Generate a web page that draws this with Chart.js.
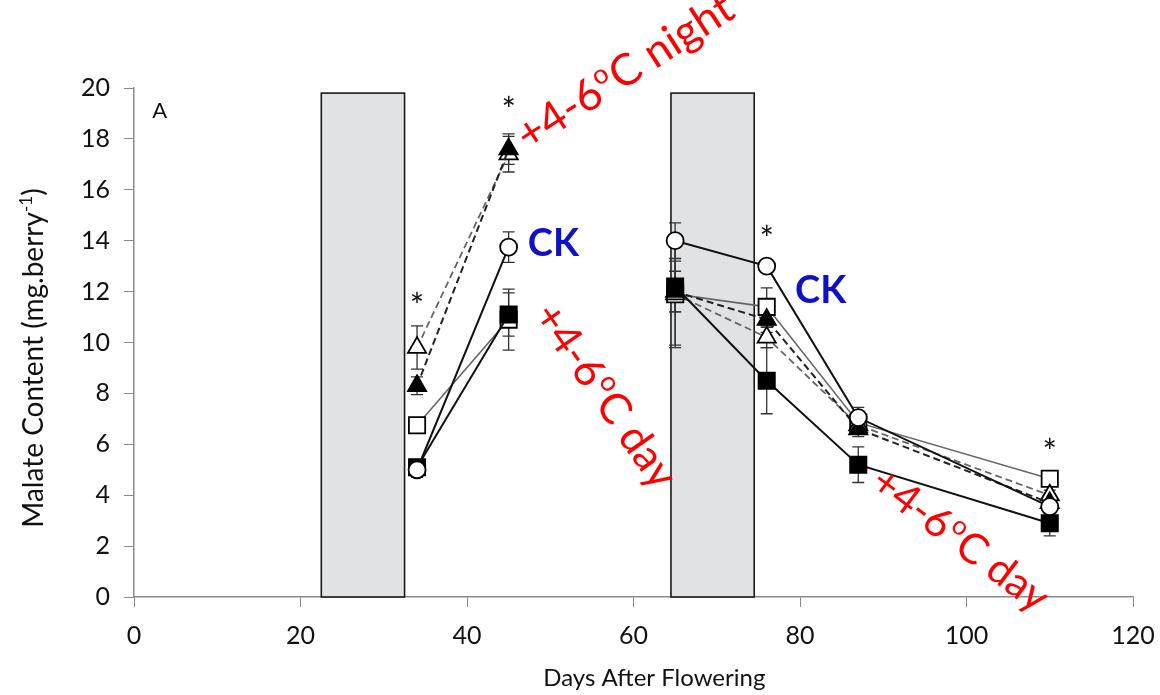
<!DOCTYPE html>
<html>
<head>
<meta charset="utf-8">
<script src="https://cdn.jsdelivr.net/npm/chart.js@4.4.0/dist/chart.umd.min.js"></script>
<style>
  html, body { margin: 0; padding: 0; background: #fff; }
  #wrap { width: 1160px; height: 695px; position: relative; }
</style>
</head>
<body>
<div id="wrap"><canvas id="malateChart"></canvas></div>
<script>
// sampling days after flowering
var days = [34, 45, 65, 76, 87, 110];

// malate content (mg per berry) and error for each treatment
var ckMean       = [5.0, 13.75, 14.0, 13.0, 7.05, 3.55];
var ckErr        = [0.3, 0.6, 0.7, 0.15, 0.4, 0.2];
var dayHotMean   = [5.1, 11.1, 12.2, 8.5, 5.2, 2.9];
var dayHotErr    = [0.2, 0.85, 1.0, 1.3, 0.7, 0.5];
var dayOpenMean  = [6.75, 10.9, 11.9, 11.4, 6.85, 4.65];
var dayOpenErr   = [0.2, 1.2, 2.1, 0.75, 0.3, 0.3];
var nightHotMean = [8.3, 17.6, 12.0, 10.9, 6.6, 3.7];
var nightHotErr  = [0.35, 0.6, 0.8, 0.5, 0.3, 0.2];
var nightOpenMean = [9.8, 17.4, 11.9, 10.2, 6.75, 4.0];
var nightOpenErr  = [0.85, 0.7, 2.0, 0.4, 0.3, 0.2];

// heating periods (days) shown as shaded boxes
var heatPeriods = [[22.5, 32.5], [64.5, 74.5]];
var heatTop = 19.8;

// significance marks
var starDays = [34, 45, 76, 110];
var starY    = [11.8, 19.5, 14.4, 6.05];

var xTicks = [0, 20, 40, 60, 80, 100, 120];
var yTicks = [0, 2, 4, 6, 8, 10, 12, 14, 16, 18, 20];

var FONT = 'Lato, "Open Sans", sans-serif';

function toPoints(vals) {
  var pts = [];
  for (var i = 0; i < days.length; i++) pts.push({ x: days[i], y: vals[i] });
  return pts;
}

// no line across the gap between the two heating periods
function gapColor(col) {
  return function (c) { return c.p0DataIndex === 1 ? 'rgba(0,0,0,0)' : col; };
}

function series(vals, errs, style) {
  return {
    data: toPoints(vals),
    errors: errs,
    borderColor: style.line,
    borderWidth: style.width,
    borderDash: style.dash || [],
    pointStyle: style.point,
    pointRadius: style.radius,
    pointBackgroundColor: style.fill,
    pointBorderColor: '#000',
    pointBorderWidth: 1.8,
    segment: { borderColor: gapColor(style.line) },
    tension: 0,
    fill: false
  };
}

var datasets = [
  series(ckMean, ckErr, { line: '#111', width: 2, point: 'circle', radius: 8.5, fill: '#fff' }),
  series(dayHotMean, dayHotErr, { line: '#111', width: 2, point: 'rect', radius: 11.5, fill: '#000' }),
  series(nightHotMean, nightHotErr, { line: '#222', width: 2, dash: [7, 4], point: 'triangle', radius: 10.5, fill: '#000' }),
  series(nightOpenMean, nightOpenErr, { line: '#666', width: 1.8, dash: [7, 4], point: 'triangle', radius: 10.5, fill: '#fff' }),
  series(dayOpenMean, dayOpenErr, { line: '#666', width: 1.6, point: 'rect', radius: 11.5, fill: '#fff' })
];

// shaded boxes and error bars go under the lines
var underlay = {
  id: 'underlay',
  beforeDatasetsDraw: function (chart) {
    var ctx = chart.ctx, xs = chart.scales.x, ys = chart.scales.y;
    ctx.save();
    heatPeriods.forEach(function (p) {
      var l = xs.getPixelForValue(p[0]), r = xs.getPixelForValue(p[1]);
      var t = ys.getPixelForValue(heatTop), b = ys.getPixelForValue(0);
      ctx.fillStyle = '#e1e2e4';
      ctx.fillRect(l, t, r - l, b - t);
      ctx.strokeStyle = '#1a1a1a';
      ctx.lineWidth = 1.6;
      ctx.strokeRect(l, t, r - l, b - t);
    });
    ctx.strokeStyle = '#333';
    ctx.lineWidth = 1.3;
    chart.data.datasets.forEach(function (ds) {
      ds.data.forEach(function (pt, i) {
        var e = ds.errors[i];
        var px = xs.getPixelForValue(pt.x);
        var hi = ys.getPixelForValue(pt.y + e), lo = ys.getPixelForValue(pt.y - e);
        ctx.beginPath();
        ctx.moveTo(px, hi); ctx.lineTo(px, lo);
        ctx.moveTo(px - 6, hi); ctx.lineTo(px + 6, hi);
        ctx.moveTo(px - 6, lo); ctx.lineTo(px + 6, lo);
        ctx.stroke();
      });
    });
    ctx.restore();
  }
};

// text with a raised small "o" for the degree sign
function degreeText(ctx, before, after, x, y, angle, size, color) {
  ctx.save();
  ctx.translate(x, y);
  ctx.rotate(angle * Math.PI / 180);
  ctx.fillStyle = color;
  ctx.textBaseline = 'alphabetic';
  ctx.textAlign = 'left';
  ctx.font = size + 'px ' + FONT;
  ctx.fillText(before, 0, 0);
  var pos = ctx.measureText(before).width;
  ctx.font = Math.round(size * 0.62) + 'px ' + FONT;
  ctx.fillText('o', pos + 1, -size * 0.38);
  pos += ctx.measureText('o').width + 2;
  ctx.font = size + 'px ' + FONT;
  ctx.fillText(after, pos, 0);
  ctx.restore();
}

var overlay = {
  id: 'overlay',
  afterDatasetsDraw: function (chart) {
    var ctx = chart.ctx, xs = chart.scales.x, ys = chart.scales.y;
    ctx.save();
    // significance stars
    ctx.fillStyle = '#111';
    ctx.font = '34px ' + FONT;
    ctx.textAlign = 'center';
    ctx.textBaseline = 'middle';
    starDays.forEach(function (d, i) {
      ctx.fillText('*', xs.getPixelForValue(d), ys.getPixelForValue(starY[i]) + 10);
    });
    // panel letter
    ctx.textAlign = 'left';
    ctx.font = '22px ' + FONT;
    ctx.fillText('A', xs.getPixelForValue(2.2), ys.getPixelForValue(19.1));
    // treatment labels
    ctx.fillStyle = '#1010c8';
    ctx.font = 'bold 38px ' + FONT;
    ctx.textBaseline = 'alphabetic';
    ctx.fillText('CK', xs.getPixelForValue(47.3), ys.getPixelForValue(13.4));
    ctx.fillText('CK', xs.getPixelForValue(79.4), ys.getPixelForValue(11.55));
    degreeText(ctx, '+4-6', 'C night', xs.getPixelForValue(47.4), ys.getPixelForValue(17.5), -33, 44, '#ff0000');
    degreeText(ctx, '+4-6', 'C day', xs.getPixelForValue(47.8), ys.getPixelForValue(11.05), 55, 43, '#ff0000');
    degreeText(ctx, '+4-6', 'C day', xs.getPixelForValue(88.2), ys.getPixelForValue(4.3), 37, 42, '#ff0000');
    // y axis title with superscript
    ctx.fillStyle = '#111';
    ctx.translate(33, 358);
    ctx.rotate(-Math.PI / 2);
    ctx.font = '28px ' + FONT;
    var main = 'Malate Content (mg.berry';
    var wMain = ctx.measureText(main).width;
    ctx.font = '17px ' + FONT;
    var wSup = ctx.measureText('-1').width;
    ctx.font = '28px ' + FONT;
    var wEnd = ctx.measureText(')').width;
    var start = -(wMain + wSup + wEnd) / 2;
    ctx.textAlign = 'left';
    ctx.textBaseline = 'alphabetic';
    ctx.fillText(main, start, 10);
    ctx.font = '17px ' + FONT;
    ctx.fillText('-1', start + wMain, -1);
    ctx.font = '28px ' + FONT;
    ctx.fillText(')', start + wMain + wSup, 10);
    // x axis title
    ctx.setTransform(1, 0, 0, 1, 0, 0);
    ctx.font = '24px ' + FONT;
    ctx.textAlign = 'center';
    ctx.fillText('Days After Flowering', xs.getPixelForValue(62.5), 686);
    ctx.restore();
  }
};

var ctx = document.getElementById('malateChart');
new Chart(ctx, {
  type: 'line',
  data: { datasets: datasets },
  options: {
    responsive: true,
    maintainAspectRatio: false,
    animation: false,
    layout: { padding: { top: 88, right: 27, left: 0, bottom: 0 } },
    plugins: { legend: { display: false }, tooltip: { enabled: false } },
    scales: {
      x: {
        type: 'linear',
        min: 0, max: 120,
        afterBuildTicks: function (s) { s.ticks = xTicks.map(function (v) { return { value: v }; }); },
        afterFit: function (s) { s.height = 98; s.paddingLeft = 0; s.paddingRight = 0; },
        grid: { drawOnChartArea: false, drawTicks: true, tickLength: 10, color: '#8a8a8a' },
        border: { color: '#8a8a8a', width: 1.5 },
        ticks: { color: '#111', font: { family: FONT, size: 25 }, padding: 14, maxRotation: 0 },
        title: { display: false }
      },
      y: {
        min: 0, max: 20,
        afterBuildTicks: function (s) { s.ticks = yTicks.map(function (v) { return { value: v }; }); },
        afterFit: function (s) { s.width = 134; s.paddingTop = 0; s.paddingBottom = 0; },
        grid: { drawOnChartArea: false, drawTicks: true, tickLength: 10, color: '#8a8a8a' },
        border: { color: '#8a8a8a', width: 1.5 },
        ticks: { color: '#111', font: { family: FONT, size: 25 }, padding: 14 }
      }
    }
  },
  plugins: [underlay, overlay]
});
</script>
</body>
</html>
